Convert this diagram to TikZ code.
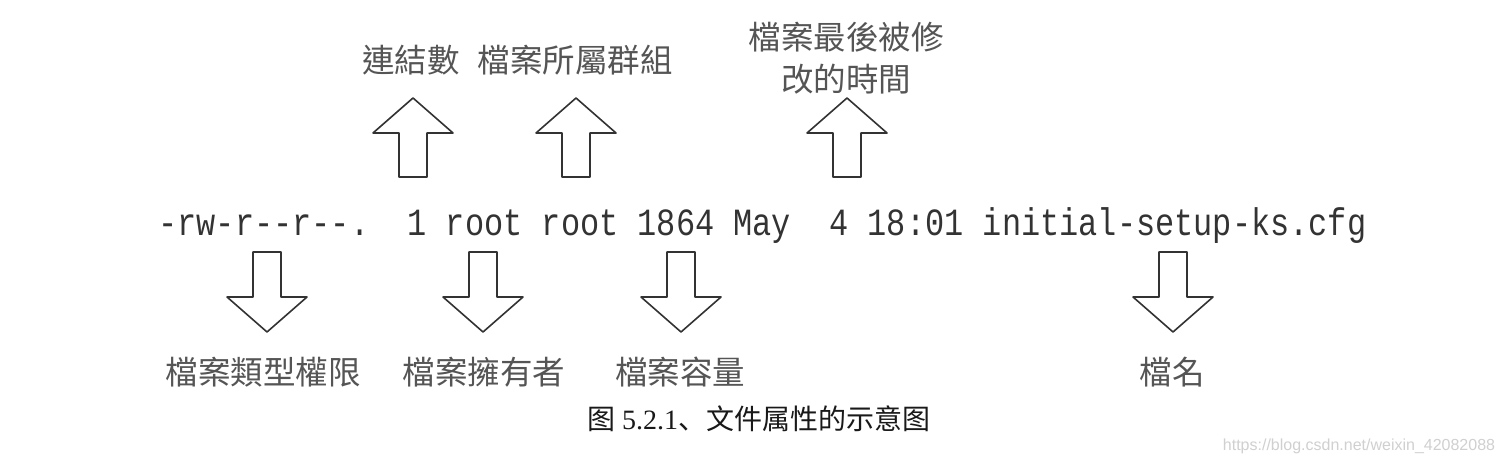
\documentclass[tikz,border=0pt]{standalone}
\usepackage{fontspec}
\setmainfont{Liberation Serif}
\newfontfamily\cmdfont[FakeStretch=0.83,Ligatures=TeXOff]{Liberation Mono}
\newfontfamily\tcfont{Noto Sans CJK TC}
\newfontfamily\scfont{Noto Sans CJK SC}
\newfontfamily\urlfont{Liberation Sans}
\definecolor{lblgray}{HTML}{555555}
\definecolor{arrgray}{HTML}{333333}
\definecolor{markgray}{HTML}{D0D0D0}

\begin{document}
\begin{tikzpicture}[x=0.5pt,y=-0.5pt,
  lbl/.style={inner sep=0pt,text=lblgray,font=\tcfont\fontsize{16.25}{21}\selectfont},
  blockarrow/.style={draw=arrgray,line width=0.8pt,line join=round,fill=white}]
  \path[fill=white,use as bounding box] (0,0) rectangle (1504,464);

  % the ls -l line
  \node (cmdline) [anchor=base west,inner sep=0pt,text=black!80,
    font=\cmdfont\fontsize{19.25}{22}\selectfont] at (158,236)
    {-rw-r--r--.~~1 root root 1864 May~~4 18:01 initial-setup-ks.cfg};

  % block arrows
  \foreach \cx in {413,576,847}
    \draw[blockarrow] (\cx-14,177) -- (\cx-14,133) -- (\cx-40,133) -- (\cx,98)
      -- (\cx+40,133) -- (\cx+14,133) -- (\cx+14,177) -- cycle;
  \foreach \cx in {267,483,681,1173}
    \draw[blockarrow] (\cx-14,252) -- (\cx-14,297) -- (\cx-40,297) -- (\cx,332)
      -- (\cx+40,297) -- (\cx+14,297) -- (\cx+14,252) -- cycle;

  % labels
  \node[lbl] (links) at (411,60) {連結數};
  \node[lbl] (group) at (575,60) {檔案所屬群組};
  \node[lbl,align=center] (mtime) at (846,58) {檔案最後被修\\改的時間};
  \node[lbl] (perm) at (263,372) {檔案類型權限};
  \node[lbl] (owner) at (484,372) {檔案擁有者};
  \node[lbl] (size) at (680,372) {檔案容量};
  \node[lbl] (fname) at (1172,372) {檔名};

  \node (caption) [inner sep=0pt,text=black!90,font=\scfont\fontsize{14}{16}\selectfont]
    at (759,419) {图\ {\rmfamily 5.2.1}、文件属性的示意图};
  \node (mark) [inner sep=0pt,text=markgray,font=\urlfont\fontsize{8}{10}\selectfont]
    at (1359,446) {https://blog.csdn.net/weixin\_42082088};
\end{tikzpicture}
\end{document}
